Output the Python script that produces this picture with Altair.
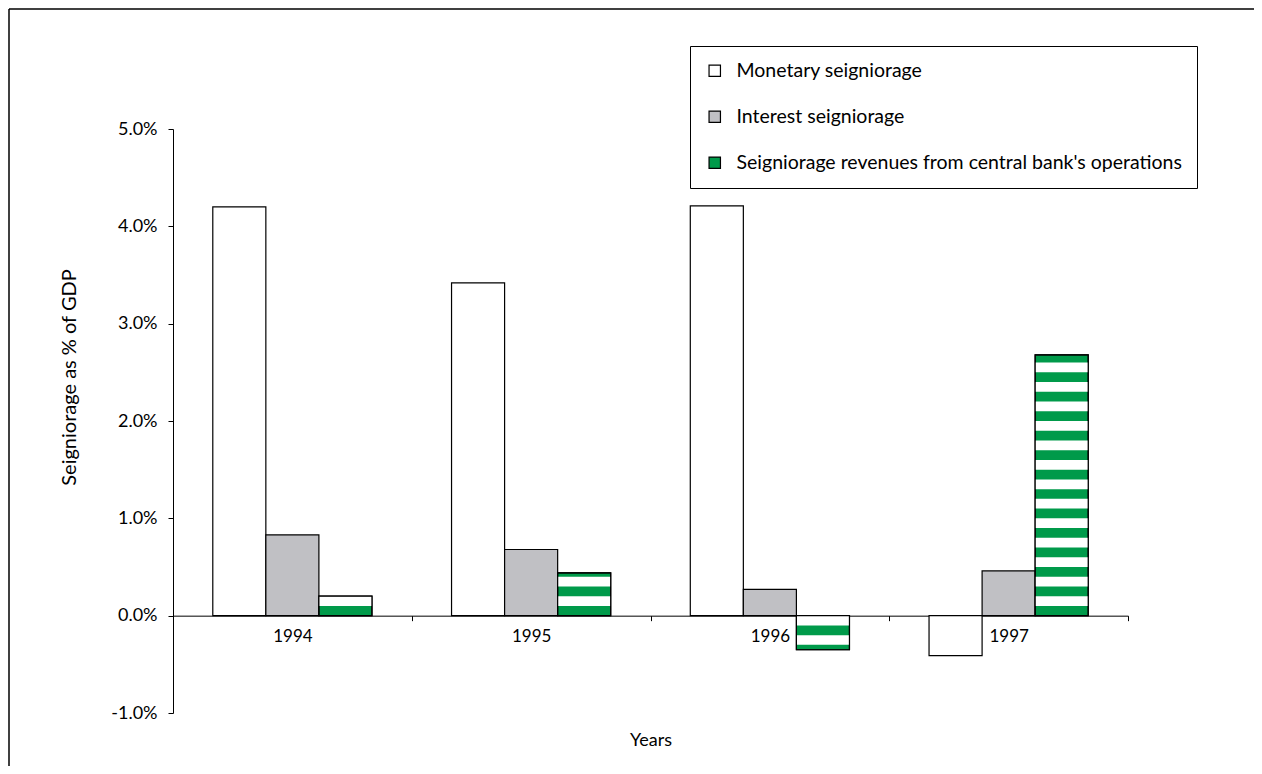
import math
import altair as alt
import pandas as pd

years = ["1994", "1995", "1996", "1997"]
series = [
    "Monetary seigniorage",
    "Interest seigniorage",
    "Seigniorage revenues from central bank's operations",
]
monetary = [4.20, 3.42, 4.21, -0.41]
interest = [0.83, 0.68, 0.27, 0.46]
central = [0.20, 0.44, -0.35, 2.68]
y_ticks = [-1, 0, 1, 2, 3, 4, 5]
stripe_step = 0.1

FONT = "Lato"
W, H = 955, 584

rows = []
for yr, m, i, c in zip(years, monetary, interest, central):
    rows.append(dict(year=yr, series=series[0], value=m))
    rows.append(dict(year=yr, series=series[1], value=i))
    rows.append(dict(year=yr, series=series[2], value=c))
df = pd.DataFrame(rows)

# white stripes over the green central-bank bars (green/white bands of 0.1 pp)
srows = []
for yr, c in zip(years, central):
    n = int(math.ceil(abs(c) / stripe_step - 1e-9))
    for k in range(n):
        lo = k * stripe_step
        hi = min((k + 1) * stripe_step, abs(c))
        if c >= 0:
            a, b, idx = lo, hi, k
        else:
            a, b, idx = -hi, -lo, -(k + 1)
        if idx % 2 != 0:
            srows.append(dict(year=yr, series=series[2], y1=a, y2=b))
sdf = pd.DataFrame(srows)

x_enc = alt.X(
    "year:N",
    scale=alt.Scale(domain=years, paddingInner=0, paddingOuter=0),
    axis=alt.Axis(
        title="Years",
        orient="bottom",
        offset=-H * (0 - y_ticks[0]) / (y_ticks[-1] - y_ticks[0]),
        labelAngle=0,
        tickBand="extent",
        tickSize=5,
        labelPadding=8,
        labelFont=FONT,
        labelFontSize=17,
        labelColor="black",
        domainColor="black",
        tickColor="black",
        titleFont=FONT,
        titleFontSize=18,
        titleFontWeight="normal",
        titleColor="black",
        titleY=125,
        titleBaseline="middle",
    ),
)
xoff_enc = alt.XOffset(
    "series:N", scale=alt.Scale(domain=series, paddingInner=0, paddingOuter=0.75)
)
y_scale = alt.Scale(domain=[y_ticks[0], y_ticks[-1]], nice=False, zero=False)
y_axis = alt.Axis(
    values=y_ticks,
    labelExpr="(datum.value < 0 ? '-' : '') + format(abs(datum.value), '.1f') + '%'",
    tickSize=5,
    labelPadding=11,
    labelFont=FONT,
    labelFontSize=18,
    labelColor="black",
    domainColor="black",
    tickColor="black",
    grid=False,
    title="Seigniorage as % of GDP",
    titleFont=FONT,
    titleFontSize=20,
    titleFontWeight="normal",
    titleColor="black",
    titleAngle=270,
    titleX=-104,
    titleY=248,
    titleAlign="center",
    titleBaseline="middle",
)

bars = alt.Chart(df).mark_bar(stroke="black", strokeWidth=1.2).encode(
    x=x_enc,
    xOffset=xoff_enc,
    y=alt.Y("value:Q", scale=y_scale, axis=y_axis, stack=None),
    fill=alt.Fill(
        "series:N",
        scale=alt.Scale(domain=series, range=["white", "#c0c0c4", "#009a4a"]),
        legend=alt.Legend(
            title=None,
            orient="none",
            legendX=517,
            legendY=-83,
            strokeColor="black",
            fillColor="white",
            padding=15,
            symbolType="square",
            symbolSize=130,
            symbolStrokeColor="black",
            symbolStrokeWidth=1.2,
            labelFont=FONT,
            labelFontSize=19.5,
            labelColor="black",
            labelOffset=12,
            rowPadding=25,
            labelLimit=600,
        ),
    ),
)

stripes = alt.Chart(sdf).mark_bar(fill="white", strokeWidth=0).encode(
    x=x_enc,
    xOffset=xoff_enc,
    y=alt.Y("y1:Q", scale=y_scale, axis=y_axis),
    y2="y2:Q",
)

outline = (
    alt.Chart(df[df["series"] == series[2]])
    .mark_bar(fillOpacity=0, stroke="black", strokeWidth=1.2)
    .encode(
        x=x_enc,
        xOffset=xoff_enc,
        y=alt.Y("value:Q", scale=y_scale, axis=y_axis, stack=None),
    )
)

frame_top = alt.Chart(pd.DataFrame({"a": [0]})).mark_rule(color="black", strokeWidth=1.5).encode(
    x=alt.value(-164), x2=alt.value(W + 130), y=alt.value(-120)
)
frame_left = alt.Chart(pd.DataFrame({"a": [0]})).mark_rule(color="black", strokeWidth=1.5).encode(
    x=alt.value(-164), y=alt.value(-120), y2=alt.value(H + 60)
)

chart = (
    alt.layer(bars, stripes, outline, frame_top, frame_left)
    .properties(
        width=W,
        height=H,
        autosize=alt.AutoSizeParams(type="none"),
        padding={"left": 165, "top": 121, "right": 126, "bottom": 53},
    )
    .configure(font=FONT)
    .configure_view(stroke=None)
)

chart.save("out.html", embed_options={"renderer": "svg", "actions": False})
